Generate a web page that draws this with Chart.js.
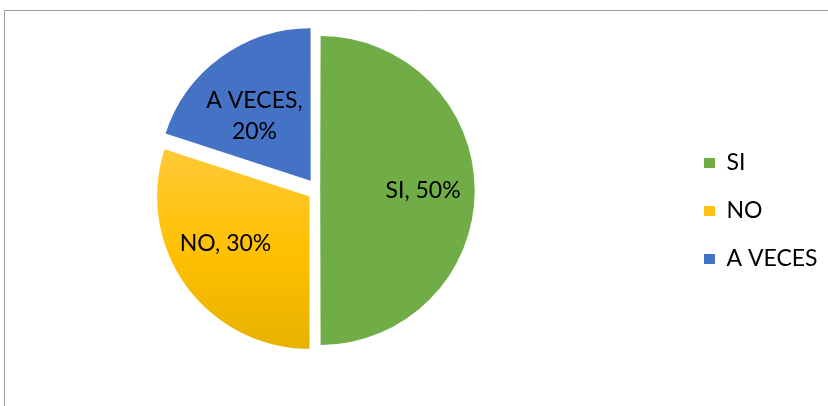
<!DOCTYPE html>
<html>
<head>
<meta charset="utf-8">
<script src="https://cdn.jsdelivr.net/npm/chart.js@4/dist/chart.umd.min.js"></script>
<style>
  html, body { margin: 0; padding: 0; background: #ffffff; }
  #wrap { position: relative; width: 828px; height: 406px; }
</style>
</head>
<body>
<div id="wrap"><canvas id="c" width="828" height="406"></canvas></div>
<script>
// ---- data ----
const categories = ['SI', 'NO', 'A VECES'];
const values = [50, 30, 20];

// ---- style ----
const colors = ['#70AD47', '#FFC000', '#4472C4'];
const explodePx = [5, 10.5, 12.6];          // visible shift of each slice
const labelRadius = [0.66, 0.63, 0.56];     // label distance as fraction of radius
const labelAngleAdj = [0, 7, -5];           // degrees, fine placement of labels
const FONT = 'Lato, "Open Sans", sans-serif';
const LABEL_SIZE = 23;
const PIE_RADIUS = 152;
const LEGEND_BOX_LEFT = 704;
const LEGEND_CENTER_Y = 211;

const total = values.reduce((a, b) => a + b, 0);
const TAU = Math.PI * 2;

function arcFactor(i) {
  const circ = values[i] / total * TAU;
  const fix = 1 - Math.sin(Math.min(Math.PI, circ));
  return (1 + fix) / 4;
}

const framePlugin = {
  id: 'frame',
  beforeDraw(chart) {
    const c = chart.ctx;
    c.save();
    c.strokeStyle = '#9a9a9a';
    c.lineWidth = 1;
    c.beginPath();
    c.moveTo(4.5, chart.height);
    c.lineTo(4.5, 10.5);
    c.lineTo(chart.width, 10.5);
    c.stroke();
    c.restore();
  }
};

const legendPlace = {
  id: 'legendPlace',
  afterLayout(chart) {
    const lg = chart.legend;
    if (!lg) return;
    const pad = lg.options.labels.padding;
    const dx = (LEGEND_BOX_LEFT - pad) - lg.left;
    const dy = LEGEND_CENTER_Y - (lg.top + lg.bottom) / 2;
    lg.left += dx; lg.right += dx;
    lg.top += dy; lg.bottom += dy;
  }
};

const sliceLabels = {
  id: 'sliceLabels',
  afterDatasetsDraw(chart) {
    const meta = chart.getDatasetMeta(0);
    const ds = chart.data.datasets[0];
    const sum = ds.data.reduce((a, b) => a + b, 0);
    const ctx = chart.ctx;
    ctx.save();
    ctx.font = LABEL_SIZE + 'px ' + FONT;
    ctx.fillStyle = '#000000';
    ctx.textAlign = 'center';
    ctx.textBaseline = 'middle';
    meta.data.forEach((arc, i) => {
      const p = arc.getProps(['x', 'y', 'startAngle', 'endAngle', 'outerRadius'], true);
      const mid = (p.startAngle + p.endAngle) / 2;
      const shift = (arc.options.offset || 0) * arcFactor(i);
      const cx = p.x + Math.cos(mid) * shift;
      const cy = p.y + Math.sin(mid) * shift;
      const a = mid + labelAngleAdj[i] * Math.PI / 180;
      const r = p.outerRadius * labelRadius[i];
      const x = cx + Math.cos(a) * r;
      const y = cy + Math.sin(a) * r;
      const pct = Math.round(ds.data[i] / sum * 100) + '%';
      let lines = [chart.data.labels[i] + ', ' + pct];
      if (ctx.measureText(lines[0]).width > 120) lines = [chart.data.labels[i] + ',', pct];
      const lh = 31;
      lines.forEach((t, j) => ctx.fillText(t, x, y + (j - (lines.length - 1) / 2) * lh));
    });
    ctx.restore();
  }
};

new Chart(document.getElementById('c'), {
  type: 'pie',
  data: {
    labels: categories,
    datasets: [{
      data: values,
      backgroundColor: (ctx) => {
        const i = ctx.dataIndex;
        const ca = ctx.chart.chartArea;
        if (i !== 1 || !ca) return colors[i];
        const cy = (ca.top + ca.bottom) / 2;
        const g = ctx.chart.ctx.createLinearGradient(0, cy - 0.3 * PIE_RADIUS, 0, cy + PIE_RADIUS + 10);
        g.addColorStop(0, '#FFC935');
        g.addColorStop(0.5, '#FFC000');
        g.addColorStop(1, '#E4B000');
        return g;
      },
      borderWidth: 0,
      offset: (ctx) => explodePx[ctx.dataIndex] / arcFactor(ctx.dataIndex)
    }]
  },
  options: {
    responsive: false,
    animation: false,
    devicePixelRatio: 1,
    radius: PIE_RADIUS,
    layout: { padding: { left: 0, right: 44, top: 0, bottom: 25 } },
    plugins: {
      legend: {
        position: 'right',
        align: 'center',
        labels: {
          boxWidth: 11,
          boxHeight: 10,
          padding: 25,
          color: '#000000',
          font: { family: FONT, size: 23 }
        }
      },
      tooltip: { enabled: false },
      title: { display: false }
    }
  },
  plugins: [framePlugin, legendPlace, sliceLabels]
});
</script>
</body>
</html>
